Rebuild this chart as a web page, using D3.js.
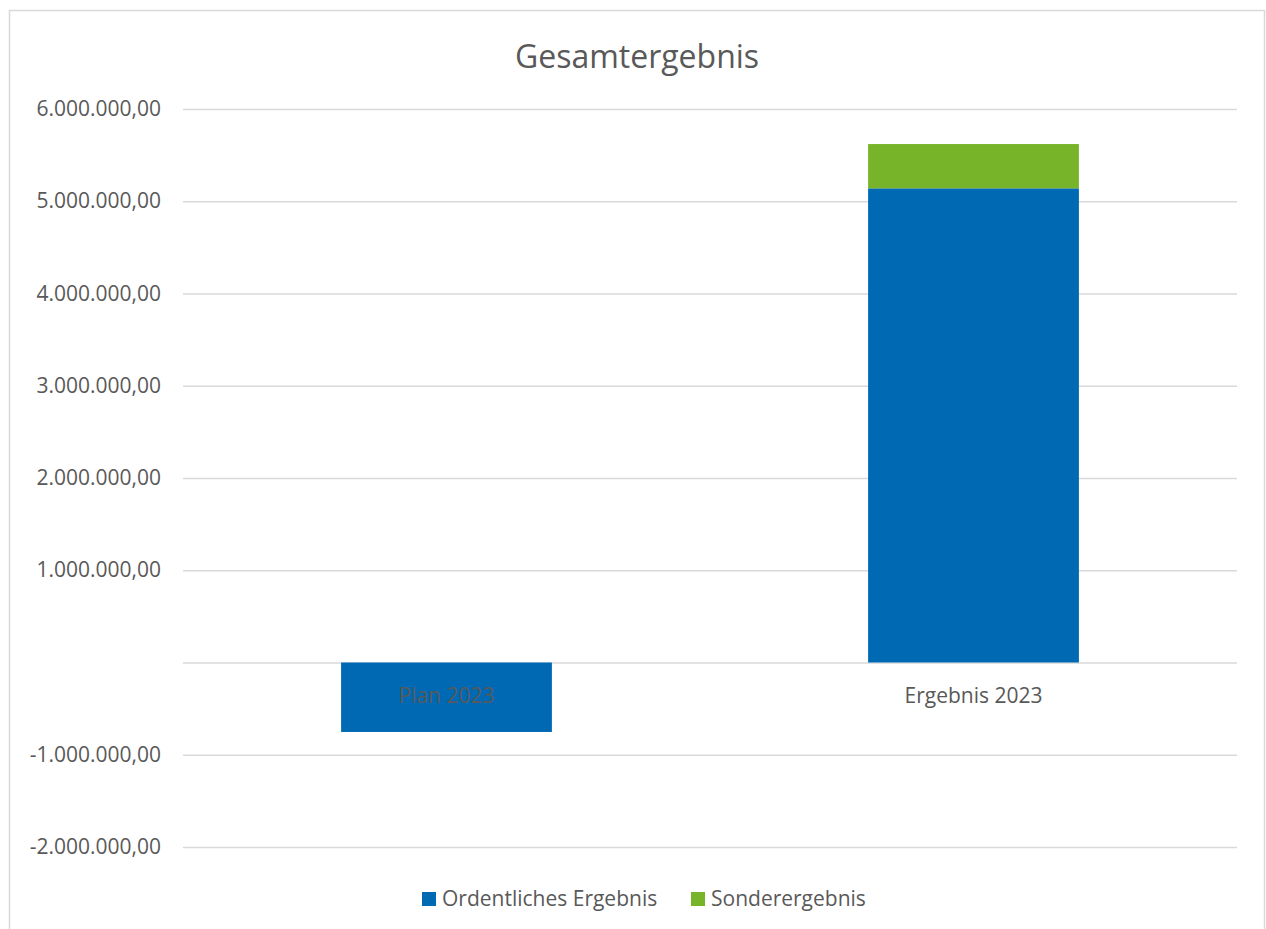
<!DOCTYPE html>
<html><head><meta charset="utf-8">
<script src="https://cdn.jsdelivr.net/npm/d3@7"></script>
<style>body{margin:0;background:#fff;font-family:"Open Sans",sans-serif}</style>
</head><body><svg id="c" width="1266" height="929"></svg>
<script>
const categories = ["Plan 2023", "Ergebnis 2023"];
const ordentlich = [-753000, 5140000];
const sonder = [0, 480000];
const seriesNames = ["Ordentliches Ergebnis", "Sonderergebnis"];
const colors = ["#0069b4", "#78b42a"];
const tickValues = [-2000000, -1000000, 0, 1000000, 2000000, 3000000, 4000000, 5000000, 6000000];

const svg = d3.select("#c");
svg.append("rect").attr("x", 9.5).attr("y", 10.5).attr("width", 1255).attr("height", 930)
  .attr("fill", "#fff").attr("stroke", "#d9d9d9").attr("stroke-width", 1.5);

const x0 = 183, x1 = 1237;
const y = d3.scaleLinear().domain([-2000000, 6000000]).range([847, 109]);
const x = d3.scaleBand().domain(categories).range([x0, x1]).paddingInner(0.6).paddingOuter(0.3);

const loc = d3.formatLocale({decimal: ",", thousands: ".", grouping: [3], currency: ["", ""], minus: "-"});
const fmt = v => v === 0 ? "" : loc.format(",.2f")(v);

const yAxis = d3.axisLeft(y).tickValues(tickValues).tickSize(-(x1 - x0)).tickFormat(fmt).tickPadding(22);
const g = svg.append("g").attr("transform", `translate(${x0},0)`).call(yAxis);
g.select(".domain").remove();
g.selectAll(".tick line").attr("stroke", "#d9d9d9").attr("stroke-width", 1.3);
g.selectAll(".tick text").attr("fill", "#595959").style("font-size", "21px").style("font-family", "Open Sans");

const data = categories.map((c, i) => ({cat: c, o: ordentlich[i], s: sonder[i]}));
const bars = svg.append("g");
data.forEach(d => {
  const ob = d.o >= 0 ? [0, d.o] : [d.o, 0];
  bars.append("rect").attr("x", x(d.cat)).attr("width", x.bandwidth())
    .attr("y", y(ob[1])).attr("height", y(ob[0]) - y(ob[1])).attr("fill", colors[0]);
  if (d.s) {
    const base = Math.max(0, d.o);
    bars.append("rect").attr("x", x(d.cat)).attr("width", x.bandwidth())
      .attr("y", y(base + d.s)).attr("height", y(base) - y(base + d.s)).attr("fill", colors[1]);
  }
});

const xAxis = d3.axisBottom(x).tickSize(0).tickPadding(0);
const xg = svg.append("g").attr("transform", `translate(0,${y(0)})`).call(xAxis);
xg.select(".domain").remove();
xg.selectAll(".tick text").attr("fill", "#595959").attr("dy", "0").attr("y", 40)
  .style("font-size", "21px").style("font-family", "Open Sans");

svg.append("text").attr("x", 637).attr("y", 68).attr("text-anchor", "middle")
  .attr("fill", "#595959").style("font-size", "32px").text("Gesamtergebnis");

const lg = svg.append("g");
const legX = [422, 691];
seriesNames.forEach((n, i) => {
  lg.append("rect").attr("x", legX[i]).attr("y", 892).attr("width", 14).attr("height", 14).attr("fill", colors[i]);
  lg.append("text").attr("x", legX[i] + 20).attr("y", 906).attr("fill", "#595959")
    .style("font-size", "21px").text(n);
});
</script></body></html>
